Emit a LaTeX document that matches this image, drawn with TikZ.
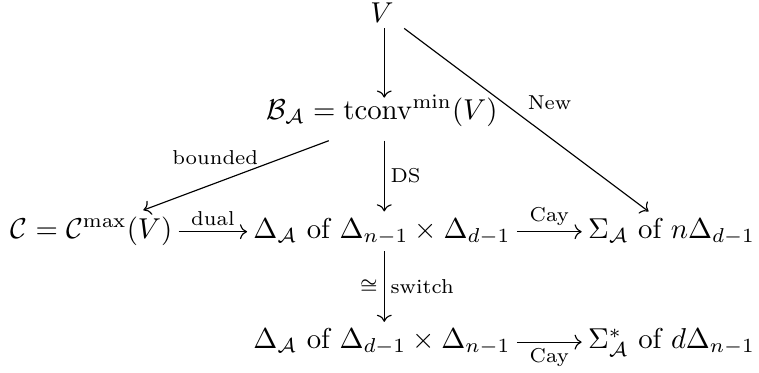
\documentclass[tikz,border=0pt]{standalone}
\usepackage{amsmath,amssymb}
\usepackage{tikz}
\usetikzlibrary{arrows.meta}

\begin{document}
\begin{tikzpicture}[obj/.style={anchor=base,inner sep=2pt},
  lab/.style={font=\scriptsize,inner sep=2pt},
  arr/.style={-{Computer Modern Rightarrow}}]
\useasboundingbox (0,0) rectangle (9.28,4.55);
\node[obj] (V) at (4.67,4.28) {$V$};
\node[obj] (B) at (4.67,3.09) {$\mathcal{B}_{\mathcal{A}} = \operatorname{tconv}^{\min}(V)$};
\node[obj] (C) at (1.12,1.64) {$\mathcal{C} = \mathcal{C}^{\max}(V)$};
\node[obj] (D) at (4.67,1.64) {$\Delta_{\mathcal{A}}$ of $\Delta_{n-1}\times\Delta_{d-1}$};
\node[obj] (S) at (8.21,1.64) {$\Sigma_{\mathcal{A}}$ of $n\Delta_{d-1}$};
\node[obj] (Dt) at (4.67,0.29) {$\Delta_{\mathcal{A}}$ of $\Delta_{d-1}\times\Delta_{n-1}$};
\node[obj] (St) at (8.21,0.29) {$\Sigma^{*}_{\mathcal{A}}$ of $d\Delta_{n-1}$};
% vertical maps
\draw[arr] ([xshift=0.8pt]V.south) -- ([xshift=0.8pt,yshift=-3pt]B.north);
\draw[arr] ([xshift=0.8pt,yshift=-2.7pt]B.south) -- node[lab,auto] {DS} ([xshift=0.8pt]D.north);
\draw[arr] ([xshift=0.8pt]D.south) -- node[lab,auto] {switch} node[lab,auto,swap] {$\cong$} ([xshift=0.8pt]Dt.north);
% diagonal maps
\draw[arr] ([xshift=1.5pt]V.south east) -- node[lab,auto,pos=0.48] {New} ([xshift=-8pt]S.north);
\draw[arr] ([xshift=-18.5pt,yshift=-2.7pt]B.south) -- node[lab,inner sep=0.5pt,auto,swap,pos=0.37] {bounded} ([xshift=18pt]C.north);
% horizontal maps
\draw[arr] ([yshift=2.2pt]C.base east) -- node[lab,auto] {dual} ([yshift=2.2pt]D.base west);
\draw[arr] ([yshift=2.2pt]D.base east) -- node[lab,auto] {Cay} ([yshift=2.2pt]S.base west);
\draw[arr] ([yshift=2.2pt]Dt.base east) -- node[lab,auto,swap] {Cay} ([yshift=2.2pt]St.base west);
\end{tikzpicture}
\end{document}
